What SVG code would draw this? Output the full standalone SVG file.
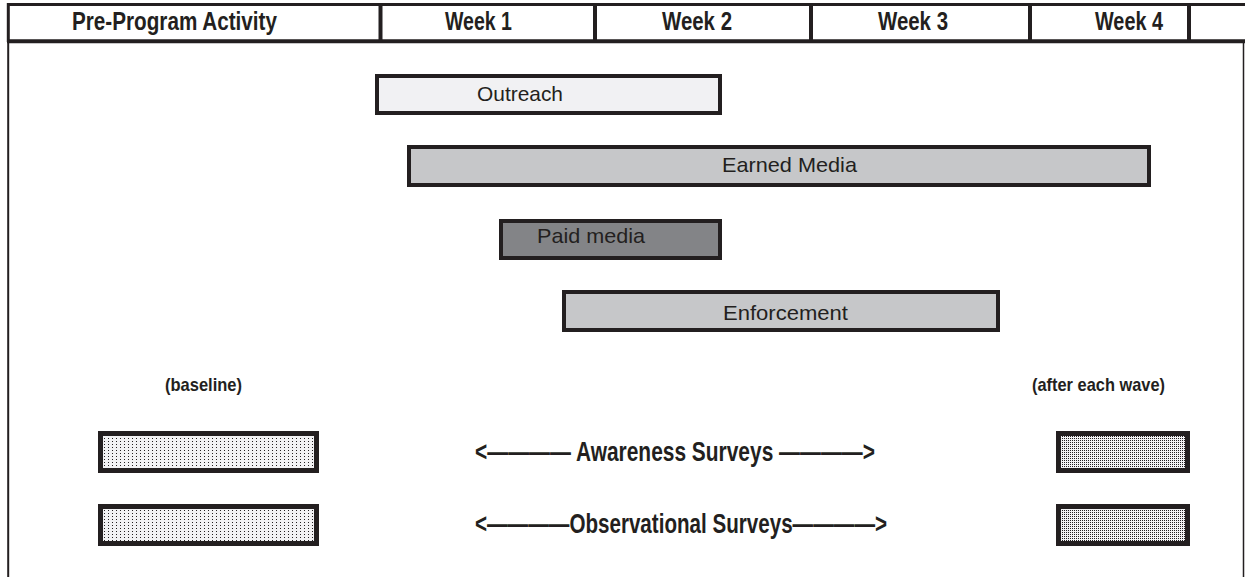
<svg xmlns="http://www.w3.org/2000/svg" width="1245" height="577" viewBox="0 0 1245 577">
<style>
.frame{stroke:#231f20;fill:none}
.hdr{font-family:"Liberation Sans Narrow","Liberation Sans",Arial,sans-serif;font-weight:bold;font-size:25px;fill:#231f20}
.bar{stroke:#231f20;stroke-width:4}
.bt{font-family:"Liberation Sans Narrow","Liberation Sans",Arial,sans-serif;font-size:21px;fill:#231f20}
.sv{font-family:"Liberation Sans Narrow","Liberation Sans",Arial,sans-serif;font-weight:bold;font-size:27px;fill:#231f20}
.sm{font-family:"Liberation Sans Narrow","Liberation Sans",Arial,sans-serif;font-weight:bold;font-size:19px;fill:#231f20}
.box{stroke:#231f20;stroke-width:5}
</style>
<defs>
<pattern id="lightDots" width="4" height="3" patternUnits="userSpaceOnUse">
<rect width="4" height="3" fill="#f2f2f4"/>
<rect x="0" y="0" width="1" height="1" fill="#231f20"/>
</pattern>
<pattern id="denseDots" width="2" height="2" patternUnits="userSpaceOnUse">
<rect width="2" height="2" fill="#f2f2f4"/>
<rect x="0" y="0" width="1" height="1" fill="#231f20"/>
</pattern>
</defs>
<rect width="1245" height="577" fill="#ffffff"/>
<g id="frame">
<line class="frame" x1="7" y1="4.5" x2="1245" y2="4.5" stroke-width="3"/>
<line class="frame" x1="7" y1="41.3" x2="1245" y2="41.3" stroke-width="4"/>
<line class="frame" x1="8.3" y1="3" x2="8.3" y2="42" stroke-width="3"/>
<line class="frame" x1="8.2" y1="42" x2="8.2" y2="577" stroke-width="2"/>
<line class="frame" x1="1243.5" y1="42" x2="1243.5" y2="577" stroke-width="1.5"/>
<line class="frame" x1="380.5" y1="4" x2="380.5" y2="42" stroke-width="4"/>
<line class="frame" x1="595" y1="4" x2="595" y2="42" stroke-width="4"/>
<line class="frame" x1="811" y1="4" x2="811" y2="42" stroke-width="4"/>
<line class="frame" x1="1030" y1="4" x2="1030" y2="42" stroke-width="4"/>
<line class="frame" x1="1189" y1="4" x2="1189" y2="42" stroke-width="4"/>
</g>
<g id="header">
<text class="hdr" x="72" y="30" textLength="205" lengthAdjust="spacingAndGlyphs">Pre-Program Activity</text>
<text class="hdr" x="445" y="30" textLength="67" lengthAdjust="spacingAndGlyphs">Week 1</text>
<text class="hdr" x="662" y="30" textLength="70" lengthAdjust="spacingAndGlyphs">Week 2</text>
<text class="hdr" x="878" y="30" textLength="70" lengthAdjust="spacingAndGlyphs">Week 3</text>
<text class="hdr" x="1095" y="30" textLength="68" lengthAdjust="spacingAndGlyphs">Week 4</text>
</g>
<g id="outreach">
<rect class="bar" x="377" y="76" width="343" height="37" fill="#f1f1f3"/>
<text class="bt" x="477" y="101" textLength="86" lengthAdjust="spacingAndGlyphs">Outreach</text>
</g>
<g id="earned-media">
<rect class="bar" x="409" y="147" width="740" height="38" fill="#c6c7c9"/>
<text class="bt" x="722" y="172" textLength="135" lengthAdjust="spacingAndGlyphs">Earned Media</text>
</g>
<g id="paid-media">
<rect class="bar" x="501" y="221" width="219" height="37" fill="#838487"/>
<text class="bt" x="537" y="243" textLength="108" lengthAdjust="spacingAndGlyphs">Paid media</text>
</g>
<g id="enforcement">
<rect class="bar" x="564" y="292" width="434" height="38" fill="#c6c7c9"/>
<text class="bt" x="723" y="320" textLength="125" lengthAdjust="spacingAndGlyphs">Enforcement</text>
</g>
<g id="labels">
<text class="sm" x="165" y="391" textLength="77" lengthAdjust="spacingAndGlyphs">(baseline)</text>
<text class="sm" x="1032" y="391" textLength="133" lengthAdjust="spacingAndGlyphs">(after each wave)</text>
</g>
<g id="baseline-awareness"><rect class="box" x="100.5" y="433.5" width="216" height="37" fill="url(#lightDots)"/></g>
<g id="baseline-observational"><rect class="box" x="100.5" y="506.5" width="216" height="37" fill="url(#lightDots)"/></g>
<g id="after-awareness"><rect class="box" x="1058.5" y="433.5" width="129" height="37" fill="url(#denseDots)"/></g>
<g id="after-observational"><rect class="box" x="1058.5" y="506.5" width="129" height="37" fill="url(#denseDots)"/></g>
<g id="connectors">
<text class="sv" x="475" y="461" textLength="400" lengthAdjust="spacingAndGlyphs">&lt;———— Awareness Surveys ————&gt;</text>
<text class="sv" x="475" y="533" textLength="412" lengthAdjust="spacingAndGlyphs">&lt;————Observational Surveys————&gt;</text>
</g>
</svg>
